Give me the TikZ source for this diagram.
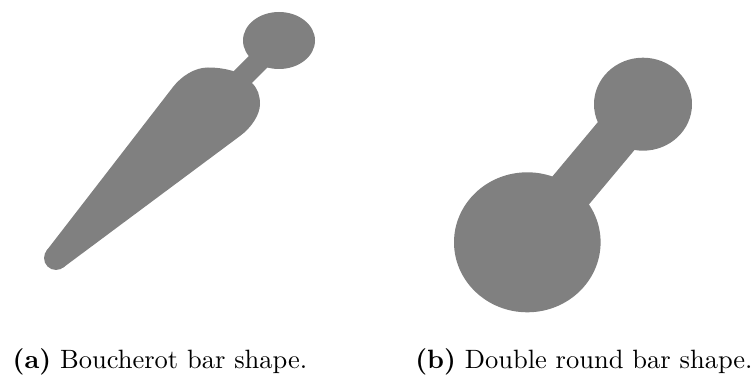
\documentclass[tikz,border=0pt]{standalone}
\usetikzlibrary{calc}
\definecolor{barfill}{HTML}{808080}
\tikzset{shapefill/.style={fill=barfill, draw=none}}
\begin{document}
\begin{tikzpicture}[x=0.3774pt, y=-0.3774pt]
\useasboundingbox (0,0) rectangle (753,376);
% ---- (a) Boucherot bar ----
\fill[shapefill] (46.1,251.2) -- (173,87)
  .. controls (181.6,75.9) and (195,67.5) .. (208,67.5)
  .. controls (218,67.5) and (226,69) .. (233,71)
  -- (252,83)
  .. controls (258,89) and (260,96) .. (260,104)
  .. controls (260,115) and (251,128) .. (240,136)
  -- (62.6,268) -- cycle;
\fill[shapefill] (56,258) circle[radius=12];
\fill[shapefill] (220,85) -- (275,30) -- (290,45) -- (235,100) -- cycle;
\fill[shapefill] (279,40.5) ellipse[x radius=36, y radius=28.5];
% ---- (b) Double round bar ----
\fill[shapefill] (527.3,242.3) ellipse[x radius=73.3, y radius=70];
\fill[shapefill] (643,104.2) ellipse[x radius=49, y radius=46.5];
\fill[shapefill] (544.9,257.1) -- (509.7,227.5) -- (625.4,89.2) -- (660.6,118.8) -- cycle;
% ---- captions ----
\node[anchor=base, inner sep=0pt] (capa) at (160,369) {\textbf{(a)} Boucherot bar shape.};
\node[anchor=base, inner sep=0pt] (capb) at (584,369) {\textbf{(b)} Double round bar shape.};
\end{tikzpicture}
\end{document}
